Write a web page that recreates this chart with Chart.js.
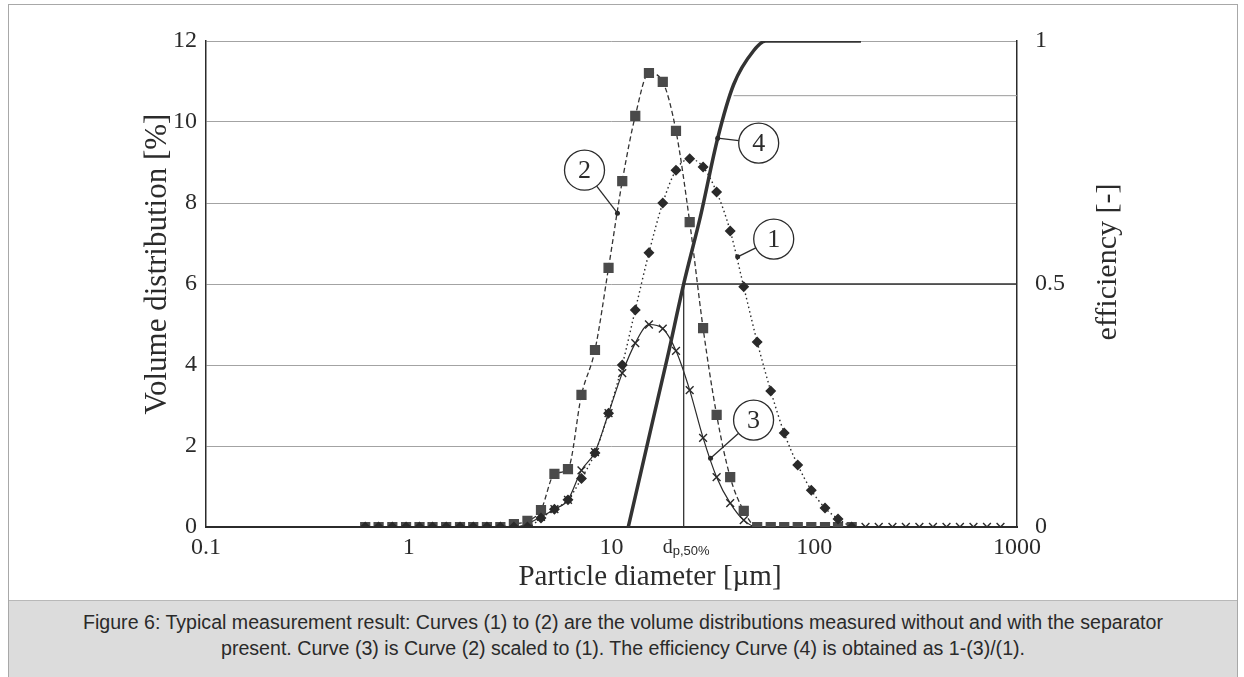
<!DOCTYPE html>
<html>
<head>
<meta charset="utf-8">
<script src="https://cdn.jsdelivr.net/npm/chart.js@4.4.1/dist/chart.umd.min.js"></script>
<style>
  html, body { margin: 0; padding: 0; background: #fff; }
  body { width: 1244px; height: 677px; position: relative; overflow: hidden; }
  #frame { position: absolute; left: 8px; top: 4px; width: 1228px; height: 690px; border: 1px solid #a8a8a8; }
  #caption {
    position: absolute; left: 9px; top: 600px; width: 1228px; height: 77px;
    background: #dcdcdc; border-top: 1px solid #b8b8b8;
    font-family: "Liberation Sans", Arial, sans-serif; font-size: 19.6px; color: #2a2a2a;
    text-align: center; line-height: 26px; padding-top: 8px; box-sizing: border-box;
  }
  #chart { position: absolute; left: 0; top: 0; }
</style>
</head>
<body>
<div id="frame"></div>
<canvas id="chart" width="1244" height="598"></canvas>
<div id="caption">Figure 6: Typical measurement result: Curves (1) to (2) are the volume distributions measured without and with the separator<br>present. Curve (3) is Curve (2) scaled to (1). The efficiency Curve (4) is obtained as 1-(3)/(1).</div>
<script>
// particle size classes [µm]
const sizes = [0.61, 0.71, 0.83, 0.97, 1.13, 1.31, 1.53, 1.79, 2.08, 2.43, 2.83, 3.30,
  3.85, 4.49, 5.23, 6.10, 7.11, 8.29, 9.67, 11.3, 13.1, 15.3, 17.9, 20.8,
  24.3, 28.3, 33.0, 38.5, 44.9, 52.3, 61.0, 71.1, 82.9, 96.7, 113, 131,
  153, 179, 208, 243, 283, 330, 385, 449, 523, 610, 711, 829];

// (1) without separator [%]
const curve1 = [0, 0, 0, 0, 0, 0, 0, 0, 0, 0, 0, 0,
  0, 0.22, 0.44, 0.67, 1.2, 1.83, 2.81, 4.0, 5.36, 6.77, 8.0, 8.81,
  9.09, 8.89, 8.27, 7.31, 5.93, 4.57, 3.36, 2.32, 1.53, 0.91, 0.47, 0.2,
  0, null, null, null, null, null, null, null, null, null, null, null];

// (2) with separator [%]
const curve2 = [0, 0, 0, 0, 0, 0, 0, 0, 0, 0, 0, 0.07,
  0.15, 0.42, 1.31, 1.43, 3.26, 4.37, 6.40, 8.54, 10.15, 11.21, 10.99, 9.78,
  7.53, 4.91, 2.77, 1.23, 0.40, 0, 0, 0, 0, 0, 0, 0,
  0, null, null, null, null, null, null, null, null, null, null, null];

// (3) curve 2 scaled to (1) [%]
const curve3 = [0, 0, 0, 0, 0, 0, 0, 0, 0, 0, 0, 0,
  0.08, 0.25, 0.44, 0.67, 1.4, 1.85, 2.81, 3.8, 4.54, 5.0, 4.9, 4.35,
  3.38, 2.2, 1.23, 0.59, 0.17, 0, 0, 0, 0, 0, 0, 0,
  0, 0, 0, 0, 0, 0, 0, 0, 0, 0, 0, 0];

// (4) efficiency [-]
const effSizes = [12.1, 15.6, 18.9, 22.7, 27.5, 33.4, 40.0, 50.2, 57.6, 170];
const efficiency = [0, 0.2, 0.35, 0.5, 0.64, 0.8, 0.91, 0.98, 1.0, 1.0];

const d50 = 22.7;
const strayLineX = [40, 1000];
const strayLineY = [10.65, 10.65];

const xTicks = [0.1, 1, 10, 100, 1000];
const xTickLabels = ['0.1', '1', '10', '100', '1000'];
const yTicks = [0, 2, 4, 6, 8, 10, 12];
const effTicks = [0, 0.5, 1];
const effTickLabels = ['0', '0.5', '1'];

const pts = (xs, ys) => xs.map((v, i) => ({ x: v, y: ys[i] }));

const serif = '"Liberation Serif", "DejaVu Serif", serif';
const ink = '#2b2b2b';

// circled curve numbers and leader lines, in data units of x / y
const callouts = [
  { text: '2', at: [7.36, 8.81], to: [10.7, 7.75] },
  { text: '4', at: [53.2, 9.48], to: [33.4, 9.6] },
  { text: '1', at: [63.1, 7.11], to: [41.9, 6.67] },
  { text: '3', at: [50.2, 2.64], to: [30.8, 1.70] },
];

const figureText = {
  id: 'figureText',
  afterDraw(chart) {
    const { ctx, chartArea: a, scales: { x, y } } = chart;
    ctx.save();
    ctx.fillStyle = ink;
    ctx.strokeStyle = ink;

    // axis titles
    ctx.textAlign = 'center';
    ctx.textBaseline = 'middle';
    ctx.font = '29px ' + serif;
    ctx.fillText('Particle diameter [µm]', 650, a.bottom + 50);

    ctx.save();
    ctx.translate(158, 264);
    ctx.rotate(-Math.PI / 2);
    ctx.font = '31px ' + serif;
    ctx.fillText('Volume distribution [%]', 0, 0);
    ctx.restore();

    ctx.save();
    ctx.translate(1108, 262);
    ctx.rotate(-Math.PI / 2);
    ctx.font = '30px ' + serif;
    ctx.fillText('efficiency [-]', 0, 0);
    ctx.restore();

    // d p,50% label
    const dx = x.getPixelForValue(d50);
    ctx.textAlign = 'left';
    ctx.textBaseline = 'alphabetic';
    ctx.font = '20px ' + serif;
    ctx.fillText('d', dx - 21, a.bottom + 26);
    ctx.font = '13px "Liberation Sans", Arial, sans-serif';
    ctx.fillText('p,50%', dx - 11, a.bottom + 28);

    // callouts
    const r = 20;
    ctx.lineWidth = 1.3;
    callouts.forEach(c => {
      const cx = x.getPixelForValue(c.at[0]), cy = y.getPixelForValue(c.at[1]);
      const ex = x.getPixelForValue(c.to[0]), ey = y.getPixelForValue(c.to[1]);
      const ang = Math.atan2(ey - cy, ex - cx);
      ctx.beginPath();
      ctx.moveTo(cx + r * Math.cos(ang), cy + r * Math.sin(ang));
      ctx.lineTo(ex, ey);
      ctx.stroke();
      ctx.beginPath();
      ctx.arc(ex, ey, 2.5, 0, Math.PI * 2);
      ctx.fill();
      ctx.beginPath();
      ctx.fillStyle = '#fff';
      ctx.arc(cx, cy, r, 0, Math.PI * 2);
      ctx.fill();
      ctx.stroke();
      ctx.fillStyle = ink;
      ctx.font = '26px ' + serif;
      ctx.textAlign = 'center';
      ctx.textBaseline = 'middle';
      ctx.fillText(c.text, cx, cy + 1);
    });
    ctx.restore();
  }
};

new Chart(document.getElementById('chart'), {
  type: 'line',
  data: {
    datasets: [
      {
        label: 'stray',
        data: pts(strayLineX, strayLineY),
        borderColor: '#9a9a9a', borderWidth: 1, pointRadius: 0,
      },
      {
        label: 'dp50',
        data: pts([d50, d50], [0, 0.5]),
        yAxisID: 'y2',
        borderColor: '#333', borderWidth: 1.3, pointRadius: 0,
      },
      {
        label: 'half',
        data: pts([d50, 1000], [0.5, 0.5]),
        yAxisID: 'y2',
        borderColor: '#333', borderWidth: 1.6, pointRadius: 0,
      },
      {
        label: '(4)',
        data: pts(effSizes, efficiency),
        yAxisID: 'y2',
        borderColor: '#333', borderWidth: 3.5, pointRadius: 0,
        cubicInterpolationMode: 'monotone',
      },
      {
        label: '(1)',
        data: pts(sizes, curve1),
        borderColor: '#2a2a2a', borderWidth: 1.4, borderDash: [1.5, 3],
        pointStyle: 'rectRot', pointRadius: 4.5, pointBackgroundColor: '#2a2a2a', pointBorderColor: '#2a2a2a',
        cubicInterpolationMode: 'monotone',
      },
      {
        label: '(2)',
        data: pts(sizes, curve2),
        borderColor: '#333', borderWidth: 1.3, borderDash: [5, 3],
        pointStyle: 'rect', pointRadius: 6.3, pointBackgroundColor: '#4a4a4a', pointBorderColor: '#4a4a4a',
        cubicInterpolationMode: 'monotone',
      },
      {
        label: '(3)',
        data: pts(sizes, curve3),
        borderColor: '#2a2a2a', borderWidth: 1.2,
        pointStyle: 'crossRot', pointRadius: 5.5, pointBorderColor: '#2a2a2a', pointBorderWidth: 1.4,
        cubicInterpolationMode: 'monotone',
      },
    ]
  },
  options: {
    responsive: false,
    animation: false,
    layout: { padding: { top: 41, left: 0, right: 0, bottom: 0 } },
    plugins: { legend: { display: false }, tooltip: { enabled: false } },
    scales: {
      x: {
        type: 'logarithmic',
        min: 0.1, max: 1000,
        afterFit: (s) => { s.height = 71; },
        afterBuildTicks: (s) => { s.ticks = xTicks.map(v => ({ value: v })); },
        ticks: {
          autoSkip: false, maxRotation: 0, padding: 6,
          color: ink, font: { family: serif, size: 24 },
          callback: (v) => xTickLabels[xTicks.indexOf(v)],
        },
        grid: { display: false, drawTicks: false },
        border: { color: '#2b2b2b', width: 2 },
      },
      y: {
        position: 'left',
        min: 0, max: 12,
        afterFit: (s) => { s.width = 206; },
        afterBuildTicks: (s) => { s.ticks = yTicks.map(v => ({ value: v })); },
        ticks: { padding: 9, color: ink, font: { family: serif, size: 24 } },
        grid: { color: '#a3a3a3', lineWidth: 1, drawTicks: false },
        border: { color: '#2b2b2b', width: 1.5 },
      },
      y2: {
        position: 'right',
        min: 0, max: 1,
        afterFit: (s) => { s.width = 227; },
        afterBuildTicks: (s) => { s.ticks = effTicks.map(v => ({ value: v })); },
        ticks: {
          padding: 18, color: ink, font: { family: serif, size: 24 },
          callback: (v) => effTickLabels[effTicks.indexOf(v)],
        },
        grid: { display: false, drawTicks: false },
        border: { color: '#2b2b2b', width: 1.5 },
      },
    }
  },
  plugins: [figureText]
});
</script>
</body>
</html>
